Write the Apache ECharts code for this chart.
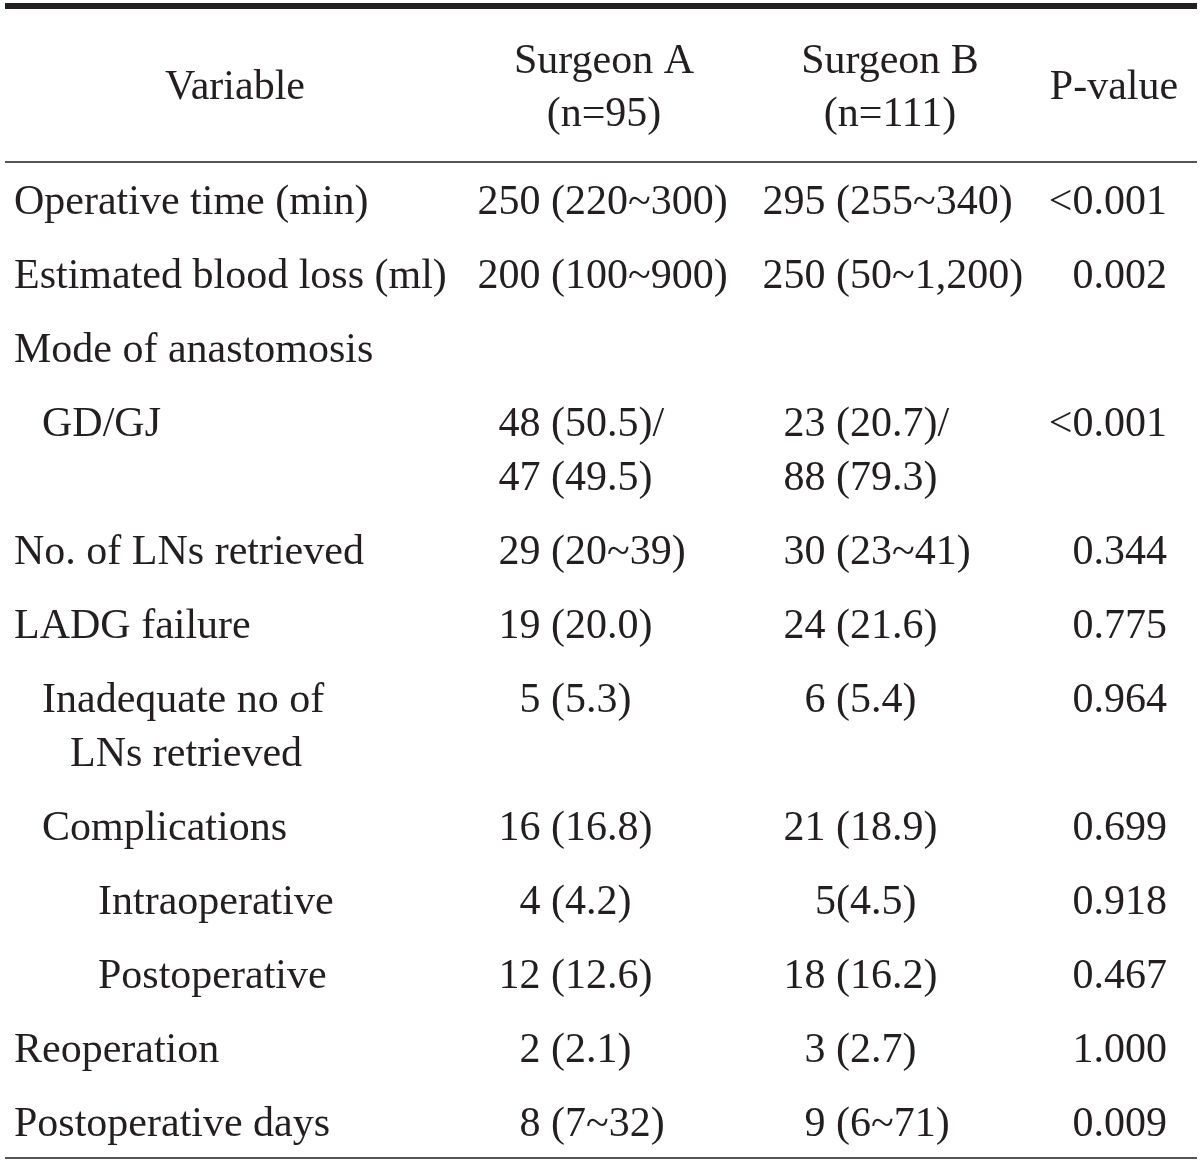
<!DOCTYPE html>
<html>
<head>
<meta charset="utf-8">
<script src="https://cdn.jsdelivr.net/npm/echarts@6/dist/echarts.min.js"></script>
<style>
html,body{margin:0;padding:0;background:#fff;}
#chart{width:1200px;height:1163px;}
</style>
</head>
<body>
<div id="chart"></div>
<script>
// ---- Data ----
const headerVariable = "Variable";
const headerSurgeonA = ["Surgeon A", "(n=95)"];
const headerSurgeonB = ["Surgeon B", "(n=111)"];
const headerPValue = "P-value";

const variableLines = [
  ["Operative time (min)"],
  ["Estimated blood loss (ml)"],
  ["Mode of anastomosis"],
  ["GD/GJ"],
  ["No. of LNs retrieved"],
  ["LADG failure"],
  ["Inadequate no of", "LNs retrieved"],
  ["Complications"],
  ["Intraoperative"],
  ["Postoperative"],
  ["Reoperation"],
  ["Postoperative days"]
];
const indentLevels = [0, 0, 0, 1, 0, 0, 1, 1, 3, 3, 0, 0];
const surgeonA = [
  ["250 (220~300)"], ["200 (100~900)"], [], ["48 (50.5)/", "47 (49.5)"],
  ["29 (20~39)"], ["19 (20.0)"], ["5 (5.3)"], ["16 (16.8)"], ["4 (4.2)"],
  ["12 (12.6)"], ["2 (2.1)"], ["8 (7~32)"]
];
const surgeonB = [
  ["295 (255~340)"], ["250 (50~1,200)"], [], ["23 (20.7)/", "88 (79.3)"],
  ["30 (23~41)"], ["24 (21.6)"], ["6 (5.4)"], ["21 (18.9)"], ["5(4.5)"],
  ["18 (16.2)"], ["3 (2.7)"], ["9 (6~71)"]
];
const pValues = ["<0.001", "0.002", "", "<0.001", "0.344", "0.775", "0.964",
  "0.699", "0.918", "0.467", "1.000", "0.009"];

// ---- Layout ----
const W = 1200, H = 1163;
const FONT = '42px "Liberation Serif", "Times New Roman", serif';
const COLOR = '#231f20';
const varX = 14, indentStep = 28;
const anchorA = 551, anchorB = 836, pRight = 1167;
const firstRowY = 203, rowStep = 74, lineStep = 54;
const headVarX = 235, headAX = 604, headBX = 890, headPX = 1114;
const headMidY = 88, headL1 = 62, headL2 = 115;

const texts = []; // [x, y, text, align]
texts.push([headVarX, headMidY, headerVariable, 'center']);
texts.push([headAX, headL1, headerSurgeonA[0], 'center']);
texts.push([headAX, headL2, headerSurgeonA[1], 'center']);
texts.push([headBX, headL1, headerSurgeonB[0], 'center']);
texts.push([headBX, headL2, headerSurgeonB[1], 'center']);
texts.push([headPX, headMidY, headerPValue, 'center']);

function pushSplit(anchor, y, s) {
  const i = s.indexOf('(');
  if (i < 0) { texts.push([anchor, y, s, 'left']); return; }
  const pre = s.slice(0, i), post = s.slice(i);
  if (pre) texts.push([anchor, y, pre, 'right']);
  texts.push([anchor, y, post, 'left']);
}

let y = firstRowY;
for (let r = 0; r < variableLines.length; r++) {
  const nLines = Math.max(variableLines[r].length, surgeonA[r].length, surgeonB[r].length, 1);
  variableLines[r].forEach((t, k) => {
    texts.push([varX + indentStep * (indentLevels[r] + k), y + k * lineStep, t, 'left']);
  });
  surgeonA[r].forEach((t, k) => pushSplit(anchorA, y + k * lineStep, t));
  surgeonB[r].forEach((t, k) => pushSplit(anchorB, y + k * lineStep, t));
  if (pValues[r]) texts.push([pRight, y, pValues[r], 'right']);
  y += rowStep + lineStep * (nLines - 1);
}

const rules = [
  { y: 6, w: 6, c: '#231f20' },
  { y: 162, w: 2, c: '#555' },
  { y: 1158, w: 2, c: '#555' }
];
const ruleX0 = 5, ruleX1 = 1197;

const chart = echarts.init(document.getElementById('chart'), null, { renderer: 'canvas' });
const series = [];
rules.forEach(rl => {
  series.push({
    type: 'line', data: [[ruleX0, rl.y], [ruleX1, rl.y]], symbol: 'none',
    lineStyle: { color: rl.c, width: rl.w }, silent: true, animation: false
  });
});
series.push({
  type: 'custom',
  data: texts,
  animation: false,
  silent: true,
  renderItem: function (params, api) {
    const d = texts[params.dataIndex];
    const pt = api.coord([d[0], d[1]]);
    return {
      type: 'text', x: pt[0], y: pt[1],
      style: { text: d[2], font: FONT, fill: COLOR, textAlign: d[3], textVerticalAlign: 'middle' }
    };
  }
});

chart.setOption({
  backgroundColor: '#fff',
  animation: false,
  grid: { left: 0, right: 0, top: 0, bottom: 0 },
  xAxis: { type: 'value', min: 0, max: W, show: false },
  yAxis: { type: 'value', min: 0, max: H, inverse: true, show: false },
  series: series
});
</script>
</body>
</html>
